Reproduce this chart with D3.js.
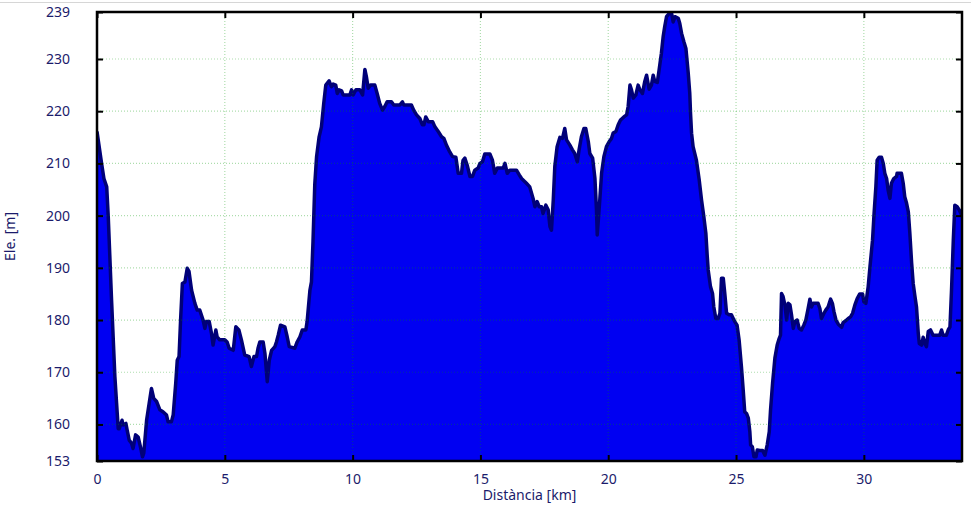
<!DOCTYPE html>
<html>
<head>
<meta charset="utf-8">
<script src="https://cdn.jsdelivr.net/npm/d3@7"></script>
<style>
  body { margin: 0; background: #fff; }
  text { font-family: "Noto Sans", sans-serif; fill: #1b1b6b; }
</style>
</head>
<body>
<script>
// distance along the track (km) and elevation (m)
var dist = [0, 0.18, 0.27, 0.38, 0.44, 0.57, 0.70, 0.83, 0.87, 0.98, 1.02, 1.13, 1.18, 1.26, 1.35, 1.41, 1.51, 1.61, 1.70, 1.78,
  1.83, 1.94, 2.04, 2.13, 2.22, 2.33, 2.46, 2.59, 2.72, 2.78, 2.91, 2.98, 3.08, 3.14, 3.21, 3.27, 3.34, 3.44, 3.53, 3.60,
  3.70, 3.83, 3.92, 4.02, 4.15, 4.22, 4.28, 4.39, 4.48, 4.54, 4.65, 4.70, 4.80, 5.00, 5.09, 5.17, 5.33, 5.43, 5.55, 5.65,
  5.78, 5.95, 6.04, 6.14, 6.24, 6.30, 6.37, 6.50, 6.57, 6.66, 6.74, 6.83, 6.96, 7.02, 7.09, 7.18, 7.35, 7.44, 7.52, 7.74,
  7.83, 7.94, 8.03, 8.17, 8.22, 8.33, 8.39, 8.45, 8.52, 8.59, 8.69, 8.78, 8.87, 8.95, 9.08, 9.17, 9.24, 9.34, 9.40, 9.47,
  9.57, 9.63, 9.89, 9.96, 10.02, 10.13, 10.28, 10.39, 10.48, 10.54, 10.61, 10.70, 10.87, 10.96, 11.06, 11.17, 11.26, 11.35, 11.52, 11.61,
  11.85, 11.95, 12.00, 12.30, 12.39, 12.50, 12.63, 12.73, 12.79, 12.86, 12.96, 13.13, 13.22, 13.35, 13.48, 13.57, 13.67, 13.80, 13.91, 14.04,
  14.13, 14.26, 14.32, 14.39, 14.48, 14.59, 14.69, 14.78, 14.91, 14.98, 15.08, 15.17, 15.37, 15.47, 15.56, 15.66, 15.89, 15.96, 16.05, 16.15,
  16.41, 16.52, 16.61, 16.74, 16.80, 16.93, 17.06, 17.13, 17.22, 17.30, 17.39, 17.45, 17.56, 17.65, 17.72, 17.78, 17.85, 17.91, 18.00, 18.11,
  18.21, 18.30, 18.37, 18.50, 18.60, 18.69, 18.79, 18.86, 18.95, 19.05, 19.12, 19.22, 19.28, 19.39, 19.48, 19.54, 19.57, 19.67, 19.74, 19.83,
  19.93, 20.04, 20.13, 20.19, 20.30, 20.39, 20.48, 20.61, 20.72, 20.78, 20.85, 20.91, 20.98, 21.08, 21.17, 21.24, 21.34, 21.43, 21.50, 21.60,
  21.69, 21.76, 21.82, 21.92, 21.99, 22.08, 22.15, 22.21, 22.28, 22.38, 22.48, 22.54, 22.61, 22.74, 22.80, 22.87, 22.96, 23.04, 23.13, 23.19,
  23.22, 23.26, 23.32, 23.45, 23.56, 23.65, 23.74, 23.82, 23.87, 23.91, 24.00, 24.08, 24.13, 24.21, 24.30, 24.37, 24.43, 24.50, 24.56, 24.63,
  24.73, 24.82, 24.89, 24.95, 25.04, 25.12, 25.21, 25.28, 25.34, 25.41, 25.48, 25.54, 25.57, 25.64, 25.70, 25.78, 25.83, 25.93, 26.04, 26.13,
  26.22, 26.30, 26.35, 26.43, 26.52, 26.61, 26.69, 26.74, 26.78, 26.84, 26.91, 26.98, 27.04, 27.11, 27.17, 27.24, 27.30, 27.39, 27.47, 27.56,
  27.65, 27.73, 27.82, 27.89, 27.95, 28.02, 28.21, 28.28, 28.34, 28.44, 28.51, 28.60, 28.70, 28.77, 28.83, 28.91, 29.00, 29.13, 29.19, 29.32,
  29.39, 29.48, 29.56, 29.65, 29.74, 29.84, 29.95, 30.00, 30.08, 30.17, 30.24, 30.34, 30.40, 30.47, 30.52, 30.60, 30.69, 30.76, 30.82, 30.89,
  30.95, 31.02, 31.08, 31.17, 31.28, 31.30, 31.47, 31.54, 31.60, 31.67, 31.74, 31.80, 31.87, 31.93, 32.00, 32.06, 32.13, 32.17, 32.26, 32.32,
  32.39, 32.45, 32.52, 32.61, 32.71, 32.97, 33.04, 33.10, 33.23, 33.30, 33.37, 33.43, 33.50, 33.56, 33.65, 33.73, 33.84];

var elev = [216.1, 210, 207.1, 205.5, 199.8, 183.8, 169.1, 159.2, 159.2, 160.8, 159.9, 160.2, 158.9, 157, 156.4, 155.4, 158, 157.6, 155.7, 153.8,
  154.5, 160.8, 164, 166.9, 165, 164.4, 162.8, 162.4, 161.8, 160.5, 160.5, 161.8, 167.9, 172.3, 173, 180, 187, 187.3, 189.9, 189.3,
  185.7, 183.2, 181.9, 181.9, 180, 178.4, 179.7, 179.7, 177.4, 175.2, 178.1, 176.8, 176.2, 176.2, 175.8, 174.6, 174.2, 178.7, 178.1, 176.2,
  173.3, 173, 171.1, 173, 173, 174.6, 175.8, 175.8, 173.6, 168.2, 172.3, 174.2, 174.9, 175.8, 177.1, 179, 178.7, 176.8, 174.9, 174.6,
  175.8, 176.8, 178.1, 178.1, 179.7, 185.7, 187.3, 195, 206, 211.3, 215.1, 217, 221.5, 225, 225.8, 224.7, 225.2, 225, 223.4, 224.1,
  223.9, 223.1, 223.1, 224.1, 223.1, 224.1, 224.1, 223.1, 228, 226.6, 224.4, 225, 225, 223.4, 221.5, 220.2, 220.9, 221.8, 221.8, 221.2,
  221.2, 221.8, 221.2, 221.2, 220.2, 219.3, 218.6, 217.4, 217.4, 218.9, 218, 218, 217, 216.1, 215.1, 214.8, 213.5, 212.2, 211.3, 211.2,
  208.1, 208.1, 210.6, 211, 209.7, 207.5, 207.5, 208.7, 209.1, 210, 210.3, 211.8, 211.8, 210.6, 208.1, 209.1, 209.1, 210, 208.1, 208.7,
  208.7, 207.8, 207.1, 206.5, 206.2, 205.5, 203.3, 201.7, 202.7, 201.7, 201.7, 200.4, 202, 201.1, 197.9, 197.2, 203, 209.4, 213.2, 215,
  214.8, 216.7, 214.5, 213.5, 212.6, 211.9, 210.3, 212.6, 215.1, 216.7, 216.7, 214.2, 211.9, 211, 207.1, 201.1, 196.3, 203, 208.1, 211.3,
  213.2, 214.2, 214.8, 215.8, 216.1, 217.4, 218.3, 218.9, 219.3, 220.9, 225, 224.1, 222.5, 223.1, 225, 224.1, 223.4, 225.7, 226.9, 224.2,
  225, 226.9, 225.7, 225.5, 227.9, 231.1, 234.3, 236.2, 238.1, 238.7, 238.7, 237.1, 238.1, 237.8, 236.8, 234.9, 233.3, 232, 227.3, 223.4,
  219.6, 215.8, 213.2, 210.6, 206.8, 203, 199.8, 196.6, 192.5, 189.6, 186.4, 185.1, 182.5, 180.3, 180.3, 181.3, 188, 188, 185.1, 181.3,
  181, 181, 180.3, 179.7, 179, 176.2, 171.1, 166.6, 162.4, 162.1, 161.2, 158.6, 156.1, 155.7, 153.8, 153.8, 155.1, 155, 155, 154.1,
  156.1, 158.6, 162.8, 167.9, 172.7, 175.2, 176.5, 177.1, 185.1, 184.5, 182.9, 180, 183.2, 182.9, 181, 178.4, 179.7, 180, 178.4, 178.1,
  179, 180, 182.2, 184, 182.5, 183.2, 183.2, 182.2, 180.3, 181.3, 181.9, 182.5, 184, 183.2, 181.6, 180, 179.2, 178.6, 179.5, 180,
  180.3, 180.6, 181.3, 182.9, 184.1, 185, 185, 183.5, 183.2, 186.4, 190.2, 195.3, 200.4, 205.5, 210.6, 211.2, 211.2, 210, 208.1, 207.1,
  204.9, 203.3, 206.2, 207.1, 207.5, 208.1, 208.1, 206.2, 203.6, 202.4, 200.7, 196.6, 190.9, 187, 184.5, 182.5, 177.4, 175.5, 175.2, 176.7,
  175.5, 174.9, 177.8, 178.1, 177.1, 177.1, 178.1, 177.1, 177.1, 178.1, 178.7, 185.7, 195.3, 202, 201.7, 201.1, 200];

var xTicks = [0, 5, 10, 15, 20, 25, 30];
var yTicks = [153, 160, 170, 180, 190, 200, 210, 220, 230, 239];

var W = 971, H = 508;
var mLeft = 97, mRight = 962, mTop = 12, mBottom = 461;

var svg = d3.select("body").append("svg")
    .attr("width", W)
    .attr("height", H);

// thin grey rule along the top of the page
svg.append("line")
    .attr("x1", 0).attr("x2", W)
    .attr("y1", 2.5).attr("y2", 2.5)
    .attr("stroke", "#d6d6d6")
    .attr("stroke-width", 1);

var x = d3.scaleLinear().domain([0, 33.84]).range([mLeft, mRight]);
var y = d3.scaleLinear().domain([153, 239]).range([mBottom, mTop]);

var pts = dist.map(function(d, i) { return [d, elev[i]]; });

var area = d3.area()
    .x(function(d) { return x(d[0]); })
    .y0(mBottom)
    .y1(function(d) { return y(d[1]); });

var line = d3.line()
    .x(function(d) { return x(d[0]); })
    .y(function(d) { return y(d[1]); });

svg.append("clipPath").attr("id", "plot")
  .append("rect")
    .attr("x", mLeft).attr("y", mTop - 2)
    .attr("width", mRight - mLeft).attr("height", mBottom - mTop + 2);

var g = svg.append("g").attr("clip-path", "url(#plot)");

g.append("path")
    .datum(pts)
    .attr("d", area)
    .attr("fill", "#0000f2");

g.append("path")
    .datum(pts)
    .attr("d", line)
    .attr("fill", "none")
    .attr("stroke", "#000078")
    .attr("stroke-width", 3.5)
    .attr("stroke-linejoin", "round");

// dotted grid, drawn over the fill
g.selectAll(".vgrid")
  .data(xTicks.slice(1))
  .enter()
  .append("line")
    .attr("x1", function(d) { return x(d); })
    .attr("x2", function(d) { return x(d); })
    .attr("y1", mTop).attr("y2", mBottom)
    .attr("stroke", "rgba(0,150,0,0.32)")
    .attr("stroke-width", 1.2)
    .attr("stroke-dasharray", "1,2");

g.selectAll(".hgrid")
  .data(yTicks.slice(1, -1))
  .enter()
  .append("line")
    .attr("x1", mLeft).attr("x2", mRight)
    .attr("y1", function(d) { return y(d); })
    .attr("y2", function(d) { return y(d); })
    .attr("stroke", "rgba(0,150,0,0.32)")
    .attr("stroke-width", 1.2)
    .attr("stroke-dasharray", "1,2");

function styleAxis(sel) {
  sel.select(".domain").remove();
  sel.selectAll(".tick line").attr("stroke", "#000").attr("stroke-width", 2);
  sel.selectAll(".tick text")
    .attr("fill", "#1b1b6b")
    .style("font-family", "'Noto Sans', sans-serif")
    .style("font-size", "14px");
}

svg.append("g")
    .attr("transform", "translate(0," + mBottom + ")")
    .call(d3.axisBottom(x).tickValues(xTicks).tickSize(-6).tickPadding(13))
    .call(styleAxis);

svg.append("g")
    .attr("transform", "translate(0," + mTop + ")")
    .call(d3.axisTop(x).tickValues(xTicks).tickSize(-6).tickFormat(""))
    .call(styleAxis);

svg.append("g")
    .attr("transform", "translate(" + mLeft + ",0)")
    .call(d3.axisLeft(y).tickValues(yTicks).tickSize(-6).tickPadding(27))
    .call(styleAxis);

svg.append("g")
    .attr("transform", "translate(" + mRight + ",0)")
    .call(d3.axisRight(y).tickValues(yTicks).tickSize(-6).tickFormat(""))
    .call(styleAxis);

// frame
svg.append("rect")
    .attr("x", mLeft).attr("y", mTop)
    .attr("width", mRight - mLeft).attr("height", mBottom - mTop)
    .attr("fill", "none")
    .attr("stroke", "#000")
    .attr("stroke-width", 2.5);

svg.append("text")
    .attr("x", (mLeft + mRight) / 2)
    .attr("y", 500)
    .attr("text-anchor", "middle")
    .style("font-size", "14px")
    .text("Distància [km]");

svg.append("text")
    .attr("transform", "translate(15," + ((mTop + mBottom) / 2) + ") rotate(-90)")
    .attr("text-anchor", "middle")
    .style("font-size", "14px")
    .text("Ele. [m]");
</script>
</body>
</html>
